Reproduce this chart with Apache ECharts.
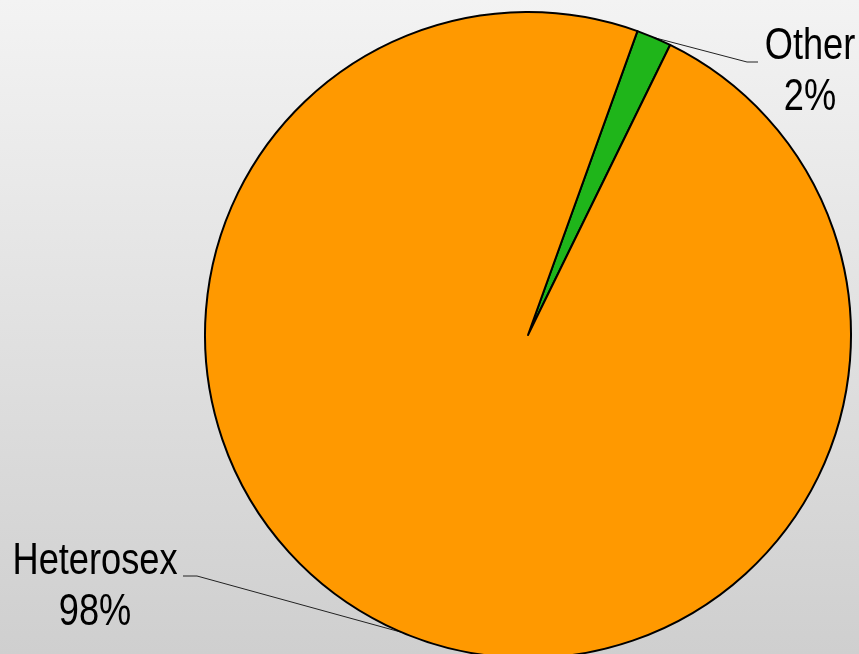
<!DOCTYPE html>
<html>
<head>
<meta charset="utf-8">
<script src="https://cdn.jsdelivr.net/npm/echarts@6/dist/echarts.min.js"></script>
<style>
html,body{margin:0;padding:0;}
#chart{width:859px;height:654px;}
</style>
</head>
<body>
<div id="chart"></div>
<script>
var categories = ['Other', 'Heterosex'];
var values = [1.75, 98.25];
var percentLabels = ['2%', '98%'];
var sliceColors = ['#1fb51a', '#ff9900'];

var chart = echarts.init(document.getElementById('chart'));
var labelPos = [
  {x: 810, y: 72, knee: [747, 62], end: [758, 62]},
  {x: 95, y: 587, knee: [197, 576], end: [183, 576]}
];
chart.setOption({
  backgroundColor: new echarts.graphic.LinearGradient(0, 0, 0, 1, [
    {offset: 0, color: '#f3f3f3'},
    {offset: 1, color: '#cfcfcf'}
  ]),
  animation: false,
  graphic: categories.map(function (c, i) {
    return {
      type: 'text',
      x: labelPos[i].x,
      y: labelPos[i].y,
      scaleX: 0.823,
      z: 100,
      style: {
        text: c + '\n' + percentLabels[i],
        fill: '#000',
        font: '44px "Liberation Sans", Arial, sans-serif',
        lineHeight: 51,
        align: 'center',
        verticalAlign: 'middle'
      }
    };
  }),
  series: [{
    type: 'pie',
    center: [528, 335],
    radius: [0, 323],
    startAngle: 70.2,
    clockwise: true,
    avoidLabelOverlap: false,
    data: categories.map(function (c, i) {
      return {name: c, value: values[i], itemStyle: {color: sliceColors[i]}};
    }),
    itemStyle: {borderColor: '#000', borderWidth: 2},
    label: {
      show: true,
      formatter: function () { return ' '; },
      fontSize: 10
    },
    labelLine: {show: true, lineStyle: {color: '#222', width: 1}},
    labelLayout: function (params) {
      var lp = labelPos[params.dataIndex];
      var start = params.labelLinePoints ? params.labelLinePoints[0] : lp.knee;
      return {
        x: lp.x, y: lp.y, align: 'center', verticalAlign: 'middle',
        labelLinePoints: [start, lp.knee, lp.end]
      };
    }
  }]
});
</script>
</body>
</html>
